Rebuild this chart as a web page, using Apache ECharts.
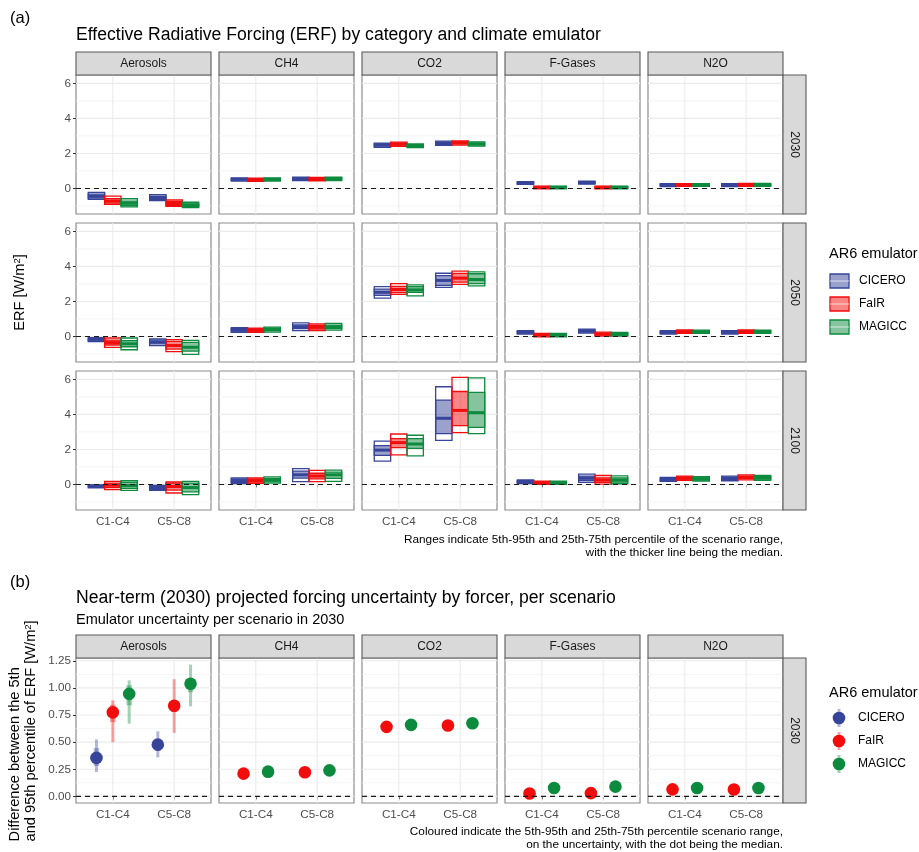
<!DOCTYPE html>
<html>
<head>
<meta charset="utf-8">
<script src="https://cdn.jsdelivr.net/npm/echarts@6/dist/echarts.min.js"></script>
<style>
  html, body { margin: 0; padding: 0; background: #ffffff; }
  #chart { width: 919px; height: 852px; }
</style>
</head>
<body>
<div id="chart"></div>
<script>
// ---------- categories ----------
const forcers = ['Aerosols', 'CH4', 'CO2', 'F-Gases', 'N2O'];
const years = ['2030', '2050', '2100'];
const categories = ['C1-C4', 'C5-C8'];
const emulators = ['CICERO', 'FaIR', 'MAGICC'];
const emulatorColors = ['#36459A', '#F20D0D', '#0C8A3E'];

// ---------- tick labels ----------
const erfTicks = [0, 2, 4, 6];
const erfMinorTicks = [-1, 1, 3, 5];
const spreadTicks = [0, 0.25, 0.5, 0.75, 1, 1.25];
const spreadMinorTicks = [0.125, 0.375, 0.625, 0.875, 1.125];

// ---------- (a) ERF ranges: [category, emulator, p5, p25, p50, p75, p95] ----------
const erfAerosols2030 = [
  ['C1-C4', 'CICERO', -0.63, -0.55, -0.45, -0.33, -0.22],
  ['C1-C4', 'FaIR',   -0.91, -0.84, -0.72, -0.58, -0.44],
  ['C1-C4', 'MAGICC', -1.05, -0.98, -0.85, -0.72, -0.59],
  ['C5-C8', 'CICERO', -0.70, -0.64, -0.55, -0.45, -0.36],
  ['C5-C8', 'FaIR',   -1.03, -0.96, -0.86, -0.76, -0.66],
  ['C5-C8', 'MAGICC', -1.10, -1.02, -0.95, -0.88, -0.79]
];
const erfAerosols2050 = [
  ['C1-C4', 'CICERO', -0.30, -0.24, -0.18, -0.12, -0.07],
  ['C1-C4', 'FaIR',   -0.63, -0.49, -0.35, -0.21, -0.09],
  ['C1-C4', 'MAGICC', -0.76, -0.59, -0.42, -0.24, -0.09],
  ['C5-C8', 'CICERO', -0.53, -0.42, -0.32, -0.20, -0.14],
  ['C5-C8', 'FaIR',   -0.87, -0.72, -0.52, -0.28, -0.18],
  ['C5-C8', 'MAGICC', -1.02, -0.84, -0.62, -0.34, -0.22]
];
const erfAerosols2100 = [
  ['C1-C4', 'CICERO', -0.19, -0.14, -0.10, -0.06, -0.02],
  ['C1-C4', 'FaIR',   -0.30, -0.18, -0.05,  0.08,  0.18],
  ['C1-C4', 'MAGICC', -0.34, -0.22, -0.06,  0.12,  0.21],
  ['C5-C8', 'CICERO', -0.34, -0.28, -0.20, -0.12, -0.05],
  ['C5-C8', 'FaIR',   -0.49, -0.32, -0.12,  0.08,  0.14],
  ['C5-C8', 'MAGICC', -0.58, -0.42, -0.18,  0.08,  0.18]
];
const erfCH42030 = [
  ['C1-C4', 'CICERO', 0.42, 0.47, 0.52, 0.56, 0.60],
  ['C1-C4', 'FaIR',   0.41, 0.46, 0.51, 0.55, 0.59],
  ['C1-C4', 'MAGICC', 0.42, 0.47, 0.52, 0.56, 0.60],
  ['C5-C8', 'CICERO', 0.45, 0.51, 0.56, 0.61, 0.65],
  ['C5-C8', 'FaIR',   0.44, 0.50, 0.55, 0.59, 0.63],
  ['C5-C8', 'MAGICC', 0.45, 0.51, 0.56, 0.60, 0.64]
];
const erfCH42050 = [
  ['C1-C4', 'CICERO', 0.24, 0.30, 0.37, 0.44, 0.50],
  ['C1-C4', 'FaIR',   0.24, 0.30, 0.36, 0.43, 0.48],
  ['C1-C4', 'MAGICC', 0.25, 0.32, 0.40, 0.47, 0.53],
  ['C5-C8', 'CICERO', 0.33, 0.45, 0.55, 0.66, 0.77],
  ['C5-C8', 'FaIR',   0.33, 0.42, 0.52, 0.62, 0.71],
  ['C5-C8', 'MAGICC', 0.36, 0.45, 0.55, 0.65, 0.75]
];
const erfCH42100 = [
  ['C1-C4', 'CICERO', 0.05, 0.12, 0.22, 0.32, 0.38],
  ['C1-C4', 'FaIR',   0.06, 0.13, 0.22, 0.31, 0.38],
  ['C1-C4', 'MAGICC', 0.08, 0.15, 0.25, 0.35, 0.43],
  ['C5-C8', 'CICERO', 0.16, 0.36, 0.55, 0.76, 0.90],
  ['C5-C8', 'FaIR',   0.16, 0.32, 0.48, 0.64, 0.80],
  ['C5-C8', 'MAGICC', 0.17, 0.35, 0.55, 0.70, 0.82]
];
const erfCO22030 = [
  ['C1-C4', 'CICERO', 2.35, 2.42, 2.48, 2.54, 2.59],
  ['C1-C4', 'FaIR',   2.40, 2.47, 2.53, 2.59, 2.65],
  ['C1-C4', 'MAGICC', 2.33, 2.39, 2.45, 2.50, 2.55],
  ['C5-C8', 'CICERO', 2.46, 2.52, 2.58, 2.64, 2.70],
  ['C5-C8', 'FaIR',   2.48, 2.54, 2.60, 2.66, 2.71],
  ['C5-C8', 'MAGICC', 2.42, 2.48, 2.54, 2.60, 2.66]
];
const erfCO22050 = [
  ['C1-C4', 'CICERO', 2.19, 2.35, 2.52, 2.70, 2.84],
  ['C1-C4', 'FaIR',   2.40, 2.50, 2.68, 2.86, 3.02],
  ['C1-C4', 'MAGICC', 2.32, 2.52, 2.66, 2.85, 2.95],
  ['C5-C8', 'CICERO', 2.80, 2.92, 3.20, 3.47, 3.61],
  ['C5-C8', 'FaIR',   2.97, 3.10, 3.33, 3.60, 3.73],
  ['C5-C8', 'MAGICC', 2.89, 3.02, 3.25, 3.58, 3.69]
];
const erfCO22100 = [
  ['C1-C4', 'CICERO', 1.33, 1.66, 1.96, 2.22, 2.48],
  ['C1-C4', 'FaIR',   1.69, 2.10, 2.39, 2.62, 2.88],
  ['C1-C4', 'MAGICC', 1.63, 2.06, 2.31, 2.62, 2.81],
  ['C5-C8', 'CICERO', 2.52, 2.90, 3.78, 4.82, 5.58],
  ['C5-C8', 'FaIR',   2.96, 3.36, 4.23, 5.31, 6.12],
  ['C5-C8', 'MAGICC', 2.90, 3.26, 4.10, 5.26, 6.09]
];
const erfFGases2030 = [
  ['C1-C4', 'CICERO', 0.23, 0.27, 0.31, 0.35, 0.39],
  ['C1-C4', 'FaIR',  -0.02, 0.02, 0.06, 0.10, 0.13],
  ['C1-C4', 'MAGICC',-0.02, 0.02, 0.06, 0.10, 0.13],
  ['C5-C8', 'CICERO', 0.25, 0.29, 0.33, 0.37, 0.41],
  ['C5-C8', 'FaIR',  -0.02, 0.02, 0.06, 0.10, 0.13],
  ['C5-C8', 'MAGICC',-0.02, 0.02, 0.06, 0.10, 0.13]
];
const erfFGases2050 = [
  ['C1-C4', 'CICERO', 0.14, 0.19, 0.23, 0.28, 0.33],
  ['C1-C4', 'FaIR',  -0.02, 0.03, 0.08, 0.13, 0.17],
  ['C1-C4', 'MAGICC',-0.02, 0.03, 0.08, 0.13, 0.17],
  ['C5-C8', 'CICERO', 0.19, 0.25, 0.31, 0.37, 0.42],
  ['C5-C8', 'FaIR',   0.02, 0.08, 0.13, 0.19, 0.25],
  ['C5-C8', 'MAGICC', 0.02, 0.07, 0.12, 0.18, 0.23]
];
const erfFGases2100 = [
  ['C1-C4', 'CICERO', 0.05, 0.10, 0.15, 0.21, 0.26],
  ['C1-C4', 'FaIR',   0.00, 0.05, 0.09, 0.14, 0.19],
  ['C1-C4', 'MAGICC', 0.00, 0.05, 0.09, 0.14, 0.19],
  ['C5-C8', 'CICERO', 0.12, 0.22, 0.35, 0.48, 0.59],
  ['C5-C8', 'FaIR',   0.02, 0.12, 0.25, 0.38, 0.51],
  ['C5-C8', 'MAGICC', 0.04, 0.13, 0.25, 0.37, 0.49]
];
const erfN2O2030 = [
  ['C1-C4', 'CICERO', 0.11, 0.15, 0.19, 0.23, 0.27],
  ['C1-C4', 'FaIR',   0.12, 0.16, 0.20, 0.24, 0.28],
  ['C1-C4', 'MAGICC', 0.12, 0.16, 0.20, 0.24, 0.28],
  ['C5-C8', 'CICERO', 0.11, 0.15, 0.19, 0.23, 0.27],
  ['C5-C8', 'FaIR',   0.12, 0.16, 0.21, 0.25, 0.29],
  ['C5-C8', 'MAGICC', 0.12, 0.16, 0.21, 0.25, 0.29]
];
const erfN2O2050 = [
  ['C1-C4', 'CICERO', 0.14, 0.19, 0.23, 0.28, 0.33],
  ['C1-C4', 'FaIR',   0.18, 0.23, 0.27, 0.32, 0.37],
  ['C1-C4', 'MAGICC', 0.17, 0.22, 0.26, 0.31, 0.36],
  ['C5-C8', 'CICERO', 0.14, 0.19, 0.24, 0.29, 0.33],
  ['C5-C8', 'FaIR',   0.18, 0.23, 0.28, 0.33, 0.38],
  ['C5-C8', 'MAGICC', 0.18, 0.23, 0.28, 0.32, 0.36]
];
const erfN2O2100 = [
  ['C1-C4', 'CICERO', 0.17, 0.23, 0.28, 0.34, 0.40],
  ['C1-C4', 'FaIR',   0.24, 0.30, 0.36, 0.42, 0.47],
  ['C1-C4', 'MAGICC', 0.19, 0.25, 0.31, 0.38, 0.44],
  ['C5-C8', 'CICERO', 0.21, 0.28, 0.34, 0.41, 0.47],
  ['C5-C8', 'FaIR',   0.26, 0.34, 0.41, 0.48, 0.55],
  ['C5-C8', 'MAGICC', 0.23, 0.30, 0.37, 0.44, 0.51]
];

// ---------- (b) 5th-95th spread in 2030: [category, emulator, p5, p25, p50, p75, p95] ----------
const spreadAerosols = [
  ['C1-C4', 'CICERO', 0.225, 0.280, 0.355, 0.445, 0.525],
  ['C1-C4', 'FaIR',   0.500, 0.685, 0.775, 0.845, 0.885],
  ['C1-C4', 'MAGICC', 0.670, 0.840, 0.945, 1.025, 1.070],
  ['C5-C8', 'CICERO', 0.360, 0.420, 0.477, 0.530, 0.600],
  ['C5-C8', 'FaIR',   0.585, 0.780, 0.835, 0.880, 1.080],
  ['C5-C8', 'MAGICC', 0.830, 0.960, 1.038, 1.075, 1.215]
];
const spreadCH4 = [
  ['C1-C4', 'FaIR',   0.200, 0.205, 0.210, 0.215, 0.220],
  ['C1-C4', 'MAGICC', 0.218, 0.223, 0.228, 0.233, 0.238],
  ['C5-C8', 'FaIR',   0.212, 0.217, 0.222, 0.227, 0.232],
  ['C5-C8', 'MAGICC', 0.230, 0.235, 0.240, 0.245, 0.250]
];
const spreadCO2 = [
  ['C1-C4', 'FaIR',   0.630, 0.636, 0.641, 0.646, 0.652],
  ['C1-C4', 'MAGICC', 0.648, 0.654, 0.659, 0.664, 0.670],
  ['C5-C8', 'FaIR',   0.642, 0.648, 0.653, 0.658, 0.664],
  ['C5-C8', 'MAGICC', 0.663, 0.669, 0.674, 0.679, 0.685]
];
const spreadFGases = [
  ['C1-C4', 'FaIR',   0.020, 0.023, 0.027, 0.031, 0.035],
  ['C1-C4', 'MAGICC', 0.068, 0.073, 0.078, 0.083, 0.088],
  ['C5-C8', 'FaIR',   0.022, 0.026, 0.030, 0.034, 0.038],
  ['C5-C8', 'MAGICC', 0.080, 0.085, 0.090, 0.095, 0.100]
];
const spreadN2O = [
  ['C1-C4', 'FaIR',   0.058, 0.061, 0.065, 0.069, 0.072],
  ['C1-C4', 'MAGICC', 0.070, 0.073, 0.077, 0.081, 0.084],
  ['C5-C8', 'FaIR',   0.057, 0.060, 0.064, 0.068, 0.071],
  ['C5-C8', 'MAGICC', 0.071, 0.074, 0.078, 0.082, 0.085]
];

// lookup tables built from the arrays above
const erfByFacet = {
  'Aerosols': { '2030': erfAerosols2030, '2050': erfAerosols2050, '2100': erfAerosols2100 },
  'CH4':      { '2030': erfCH42030,      '2050': erfCH42050,      '2100': erfCH42100 },
  'CO2':      { '2030': erfCO22030,      '2050': erfCO22050,      '2100': erfCO22100 },
  'F-Gases':  { '2030': erfFGases2030,   '2050': erfFGases2050,   '2100': erfFGases2100 },
  'N2O':      { '2030': erfN2O2030,      '2050': erfN2O2050,      '2100': erfN2O2100 }
};
const spreadByForcer = {
  'Aerosols': spreadAerosols, 'CH4': spreadCH4, 'CO2': spreadCO2,
  'F-Gases': spreadFGases, 'N2O': spreadN2O
};

// ---------- layout ----------
const FONT = '"Liberation Sans", Arial, Helvetica, sans-serif';
const COL_X = [76, 219, 362, 505, 648];
const PANEL_W = 135;
const ROW_Y_A = [75, 223, 371];
const PANEL_H_A = 139;
const PANEL_Y_B = 658;
const PANEL_H_B = 145;
const STRIP = 23;
const RIGHT_X = COL_X[4] + PANEL_W;   // right-hand strip column
const PANEL_BORDER = '#8C8C8C';
const STRIP_BORDER = '#595959';
const STRIP_FILL = '#D9D9D9';
const TICK_TEXT = '#4D4D4D';
const TITLE_SIZE = 17.6;
const AXIS_TITLE_SIZE = 14.6;
const CAPTION_SIZE = 11.8;

function withAlpha(hex, a) {
  const n = parseInt(hex.slice(1), 16);
  return 'rgba(' + ((n >> 16) & 255) + ',' + ((n >> 8) & 255) + ',' + (n & 255) + ',' + a + ')';
}

// scale limits with 5% expansion, the zero reference line included
function expandedRange(tables) {
  let lo = 0, hi = 0;
  tables.forEach(t => t.forEach(r => {
    for (let i = 2; i < 7; i++) { lo = Math.min(lo, r[i]); hi = Math.max(hi, r[i]); }
  }));
  const pad = (hi - lo) * 0.05;
  return [lo - pad, hi + pad];
}
const erfRange = expandedRange(Object.values(erfByFacet).flatMap(o => Object.values(o)));
const spreadRange = expandedRange(Object.values(spreadByForcer));

// rows -> numeric items [categoryPos, slotIndex, slotCount, emulatorIndex, p5, p25, p50, p75, p95]
function toItems(rows) {
  const present = emulators.filter(e => rows.some(r => r[1] === e));
  return rows.map(r => [
    categories.indexOf(r[0]) + 1,
    present.indexOf(r[1]),
    present.length,
    emulators.indexOf(r[1]),
    r[2], r[3], r[4], r[5], r[6]
  ]);
}

const DODGE = 0.8;

function slotCenter(api) {
  const slot = DODGE / api.value(2);
  return { c: api.value(0) + (api.value(1) - (api.value(2) - 1) / 2) * slot, slot: slot };
}

function renderCrossbar(params, api) {
  const d = slotCenter(api);
  const color = emulatorColors[api.value(3)];
  const xl = api.coord([d.c - d.slot / 2, 0])[0];
  const xr = api.coord([d.c + d.slot / 2, 0])[0];
  const y = v => api.coord([d.c, v])[1];
  return {
    type: 'group',
    children: [
      { type: 'rect', shape: { x: xl, y: y(api.value(8)), width: xr - xl, height: y(api.value(4)) - y(api.value(8)) },
        style: { fill: 'rgba(255,255,255,0)', stroke: color, lineWidth: 1.3 } },
      { type: 'rect', shape: { x: xl, y: y(api.value(7)), width: xr - xl, height: y(api.value(5)) - y(api.value(7)) },
        style: { fill: withAlpha(color, 0.5), stroke: color, lineWidth: 1.3 } },
      { type: 'line', shape: { x1: xl, y1: y(api.value(6)), x2: xr, y2: y(api.value(6)) },
        style: { stroke: color, lineWidth: 3 } }
    ]
  };
}

function renderPointRange(params, api) {
  const d = slotCenter(api);
  const color = emulatorColors[api.value(3)];
  const p = v => api.coord([d.c, v]);
  const x = p(0)[0];
  return {
    type: 'group',
    children: [
      { type: 'line', shape: { x1: x, y1: p(api.value(4))[1], x2: x, y2: p(api.value(8))[1] },
        style: { stroke: withAlpha(color, 0.38), lineWidth: 3 } },
      { type: 'line', shape: { x1: x, y1: p(api.value(5))[1], x2: x, y2: p(api.value(7))[1] },
        style: { stroke: withAlpha(color, 0.38), lineWidth: 5.5 } },
      { type: 'circle', shape: { cx: x, cy: p(api.value(6))[1], r: 6.3 }, style: { fill: color } }
    ]
  };
}

function gridLines(major, minor) {
  return function (params, api) {
    const cs = params.coordSys;
    const kids = [];
    minor.forEach(v => {
      const py = api.coord([1, v])[1];
      kids.push({ type: 'line', shape: { x1: cs.x, y1: py, x2: cs.x + cs.width, y2: py }, style: { stroke: '#F3F3F3', lineWidth: 0.8 } });
    });
    major.forEach(v => {
      const py = api.coord([1, v])[1];
      kids.push({ type: 'line', shape: { x1: cs.x, y1: py, x2: cs.x + cs.width, y2: py }, style: { stroke: '#EBEBEB', lineWidth: 1.1 } });
    });
    [1, 2].forEach(v => {
      const px = api.coord([v, 0])[0];
      kids.push({ type: 'line', shape: { x1: px, y1: cs.y, x2: px, y2: cs.y + cs.height }, style: { stroke: '#EBEBEB', lineWidth: 1.1 } });
    });
    return { type: 'group', children: kids };
  };
}

function zeroLine(params, api) {
  const cs = params.coordSys;
  const py = api.coord([1, 0])[1];
  return { type: 'line', shape: { x1: cs.x, y1: py, x2: cs.x + cs.width, y2: py },
    style: { stroke: '#1A1A1A', lineWidth: 1.1, lineDash: [5, 4] } };
}

const grids = [], xAxes = [], yAxes = [], series = [], graphic = [];

function addPanel(left, top, height, range, major, minor, showX, showY, yFmt, items, renderer) {
  const gi = grids.length;
  grids.push({ left: left, top: top, width: PANEL_W, height: height, show: true,
    backgroundColor: '#ffffff', borderColor: PANEL_BORDER, borderWidth: 1.2,
    containLabel: false, outerBoundsMode: 'none' });
  xAxes.push({ gridIndex: gi, type: 'value', min: 0.4, max: 2.6,
    axisLine: { show: false }, splitLine: { show: false },
    axisTick: { show: showX, customValues: [1, 2], length: 3, lineStyle: { color: '#333333', width: 1 } },
    axisLabel: { show: showX, customValues: [1, 2], margin: 6, color: TICK_TEXT, fontSize: 11.7, fontFamily: FONT,
      formatter: v => categories[Math.round(v) - 1] } });
  yAxes.push({ gridIndex: gi, type: 'value', min: range[0], max: range[1],
    axisLine: { show: false }, splitLine: { show: false },
    axisTick: { show: showY, customValues: major, length: 3, lineStyle: { color: '#333333', width: 1 } },
    axisLabel: { show: showY, customValues: major, margin: 5, color: TICK_TEXT, fontSize: 11.7, fontFamily: FONT,
      formatter: yFmt } });
  series.push({ type: 'custom', xAxisIndex: gi, yAxisIndex: gi, silent: true, z: 1, clip: false,
    renderItem: gridLines(major, minor), data: [[1, 0]] });
  series.push({ type: 'custom', xAxisIndex: gi, yAxisIndex: gi, silent: true, z: 2,
    renderItem: renderer, data: items });
  series.push({ type: 'custom', xAxisIndex: gi, yAxisIndex: gi, silent: true, z: 3, clip: false,
    renderItem: zeroLine, data: [[1, 0]] });
}

function stripTop(x, y, label) {
  graphic.push({ type: 'rect', shape: { x: x, y: y, width: PANEL_W, height: STRIP },
    style: { fill: STRIP_FILL, stroke: STRIP_BORDER, lineWidth: 1.1 }, z: 10 });
  graphic.push({ type: 'text', x: x + PANEL_W / 2, y: y + STRIP / 2 + 0.5, z: 11,
    style: { text: label, fill: '#1A1A1A', font: '12px ' + FONT, align: 'center', verticalAlign: 'middle' } });
}
function stripRight(y, h, label) {
  graphic.push({ type: 'rect', shape: { x: RIGHT_X, y: y, width: STRIP, height: h },
    style: { fill: STRIP_FILL, stroke: STRIP_BORDER, lineWidth: 1.1 }, z: 10 });
  graphic.push({ type: 'text', x: RIGHT_X + STRIP / 2, y: y + h / 2, rotation: -Math.PI / 2, z: 11,
    style: { text: label, fill: '#1A1A1A', font: '12px ' + FONT, align: 'center', verticalAlign: 'middle' } });
}
function text(x, y, str, size, opts) {
  graphic.push(Object.assign({ type: 'text', x: x, y: y, z: 12,
    style: Object.assign({ text: str, fill: '#000000', font: size + 'px ' + FONT, align: 'left', verticalAlign: 'middle' }, opts && opts.style || {}) },
    opts && opts.rotation !== undefined ? { rotation: opts.rotation } : {}));
}
const SUP_RICH = { sup: { fontSize: 9.5, verticalAlign: 'top', lineHeight: 16, fontFamily: FONT } };

// ---------- panel (a) ----------
years.forEach((yr, r) => {
  forcers.forEach((f, c) => {
    addPanel(COL_X[c], ROW_Y_A[r], PANEL_H_A, erfRange, erfTicks, erfMinorTicks,
      r === years.length - 1, c === 0, v => String(v), toItems(erfByFacet[f][yr]), renderCrossbar);
  });
  stripRight(ROW_Y_A[r], PANEL_H_A, yr);
});
forcers.forEach((f, c) => stripTop(COL_X[c], ROW_Y_A[0] - STRIP, f));

text(10, 18, '(a)', 16.5);
text(COL_X[0], 35, 'Effective Radiative Forcing (ERF) by category and climate emulator', TITLE_SIZE);
graphic.push({ type: 'text', x: 20, y: ROW_Y_A[0] + (ROW_Y_A[2] + PANEL_H_A - ROW_Y_A[0]) / 2, rotation: Math.PI / 2, z: 12,
  style: { text: 'ERF [W/m{sup|2}]', fill: '#000000', font: AXIS_TITLE_SIZE + 'px ' + FONT, align: 'center', verticalAlign: 'middle',
    rich: SUP_RICH } });
text(RIGHT_X, 540, 'Ranges indicate 5th-95th and 25th-75th percentile of the scenario range,', CAPTION_SIZE, { style: { align: 'right' } });
text(RIGHT_X, 553, 'with the thicker line being the median.', CAPTION_SIZE, { style: { align: 'right' } });

// legend (a)
text(829, 254, 'AR6 emulator', 14.5);
emulators.forEach((e, i) => {
  const cy = 281 + i * 23;
  graphic.push({ type: 'rect', shape: { x: 830, y: cy - 7, width: 19, height: 14 },
    style: { fill: withAlpha(emulatorColors[i], 0.5), stroke: emulatorColors[i], lineWidth: 1.3 }, z: 12 });
  graphic.push({ type: 'line', shape: { x1: 830, y1: cy, x2: 849, y2: cy },
    style: { stroke: 'rgba(255,255,255,0.45)', lineWidth: 1.5 }, z: 13 });
  text(859, cy, e, 12);
});

// ---------- panel (b) ----------
forcers.forEach((f, c) => {
  addPanel(COL_X[c], PANEL_Y_B, PANEL_H_B, spreadRange, spreadTicks, spreadMinorTicks,
    true, c === 0, v => v.toFixed(2), toItems(spreadByForcer[f]), renderPointRange);
  stripTop(COL_X[c], PANEL_Y_B - STRIP, f);
});
stripRight(PANEL_Y_B, PANEL_H_B, '2030');

text(10, 582, '(b)', 16.5);
text(COL_X[0], 598, 'Near-term (2030) projected forcing uncertainty by forcer, per scenario', TITLE_SIZE);
text(COL_X[0], 620, 'Emulator uncertainty per scenario in 2030', 14.5);

// two-line axis title: block centred on the panel, lines left-justified
const measureCtx = document.createElement('canvas').getContext('2d');
measureCtx.font = AXIS_TITLE_SIZE + 'px ' + FONT;
const yTitleLine1 = 'Difference between the 5th';
const yTitleLine2Main = 'and 95th percentile of ERF [W/m';
let blockLen = Math.max(measureCtx.measureText(yTitleLine1).width,
  measureCtx.measureText(yTitleLine2Main + ']').width + 6);
const yStartB = PANEL_Y_B + PANEL_H_B / 2 + blockLen / 2;
text(15, yStartB, yTitleLine1, AXIS_TITLE_SIZE, { rotation: Math.PI / 2, style: { align: 'left' } });
graphic.push({ type: 'text', x: 31, y: yStartB, rotation: Math.PI / 2, z: 12,
  style: { text: 'and 95th percentile of ERF [W/m{sup|2}]', fill: '#000000', font: AXIS_TITLE_SIZE + 'px ' + FONT,
    align: 'left', verticalAlign: 'middle', rich: SUP_RICH } });
text(RIGHT_X, 832, 'Coloured indicate the 5th-95th and 25th-75th percentile scenario range,', CAPTION_SIZE, { style: { align: 'right' } });
text(RIGHT_X, 845, 'on the uncertainty, with the dot being the median.', CAPTION_SIZE, { style: { align: 'right' } });

// legend (b)
text(829, 693, 'AR6 emulator', 14.5);
emulators.forEach((e, i) => {
  const cy = 718 + i * 23;
  graphic.push({ type: 'line', shape: { x1: 839, y1: cy - 9, x2: 839, y2: cy + 9 },
    style: { stroke: withAlpha(emulatorColors[i], 0.38), lineWidth: 3 }, z: 12 });
  graphic.push({ type: 'line', shape: { x1: 839, y1: cy - 6, x2: 839, y2: cy + 6 },
    style: { stroke: withAlpha(emulatorColors[i], 0.38), lineWidth: 5.5 }, z: 12 });
  graphic.push({ type: 'circle', shape: { cx: 839, cy: cy, r: 6.3 }, style: { fill: emulatorColors[i] }, z: 13 });
  text(858, cy, e, 12);
});

const chart = echarts.init(document.getElementById('chart'), null, { renderer: 'canvas' });
chart.setOption({
  animation: false,
  backgroundColor: '#ffffff',
  textStyle: { fontFamily: FONT },
  grid: grids,
  xAxis: xAxes,
  yAxis: yAxes,
  series: series,
  graphic: graphic
});
</script>
</body>
</html>
